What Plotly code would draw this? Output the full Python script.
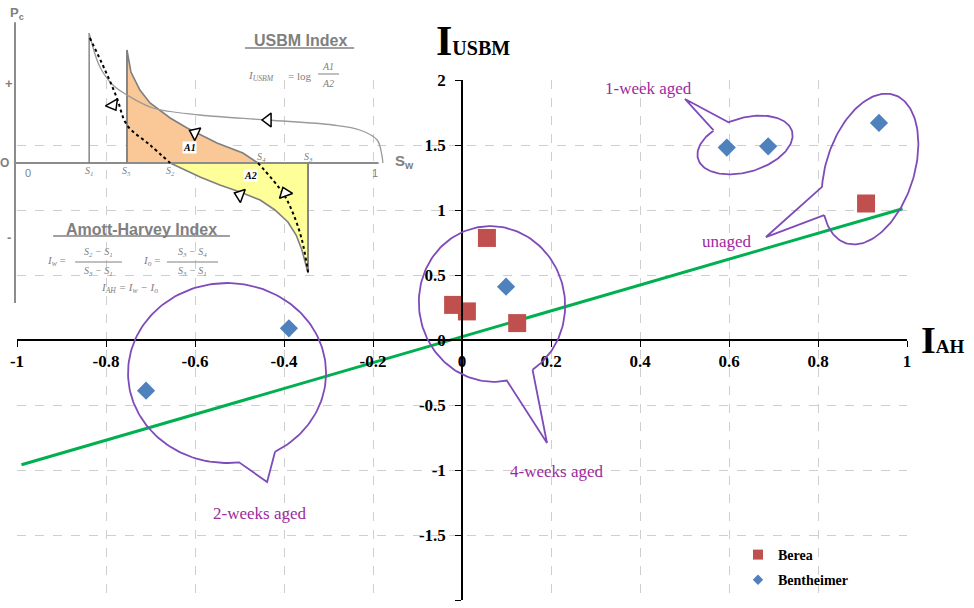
import numpy as np
import plotly.graph_objects as go

# ---------------- wettability indices ----------------
berea_iah = [0.908, -0.02, 0.011, 0.056, 0.124]
berea_iusbm = [1.05, 0.27, 0.22, 0.785, 0.13]

benth_iah = [0.937, 0.595, 0.688, 0.099, -0.71, -0.389]
benth_iusbm = [1.67, 1.48, 1.49, 0.41, -0.39, 0.09]

trend_iah = [-0.99, 0.99]
trend_iusbm = [-0.96, 1.01]

x_ticks = [-1, -0.8, -0.6, -0.4, -0.2, 0, 0.2, 0.4, 0.6, 0.8, 1]
x_tick_labels = ["-1", "-0.8", "-0.6", "-0.4", "-0.2", "0", "0.2", "0.4", "0.6", "0.8", "1"]
y_ticks = [-2, -1.5, -1, -0.5, 0, 0.5, 1, 1.5, 2]
y_tick_labels = ["-2", "-1.5", "-1", "-0.5", "0", "0.5", "1", "1.5", "2"]

group_labels = ["1-week aged", "unaged", "4-weeks aged", "2-weeks aged"]
group_label_x = [0.418, 0.596, 0.213, -0.456]
group_label_y = [1.938, 0.754, -1.015, -1.331]

# ---------------- schematic capillary-pressure curves (Sw, Pc) ----------------
drain_sw = [0.206, 0.236, 0.272, 0.311, 0.383, 0.514, 0.70, 0.883, 0.958, 1.006, 1.019, 1.022]
drain_pc = [1.625, 1.20, 0.975, 0.85, 0.6875, 0.60, 0.5375, 0.475, 0.4125, 0.2875, 0.10, 0.0]

spont_imb_sw = [0.208, 0.25, 0.283, 0.311, 0.375, 0.431]
spont_imb_pc = [1.5625, 1.1625, 0.8125, 0.475, 0.225, 0.0]

forced_imb_sw = [0.431, 0.472, 0.514, 0.569, 0.625, 0.681, 0.722, 0.758, 0.781, 0.797, 0.814]
forced_imb_pc = [0.0, -0.0875, -0.175, -0.275, -0.3625, -0.4625, -0.5875, -0.7375, -0.90, -1.0875, -1.375]

spont_drain_sw = [0.675, 0.744, 0.772, 0.797, 0.814]
spont_drain_pc = [0.0, -0.375, -0.625, -0.9625, -1.3625]

forced_drain_sw = [0.311, 0.322, 0.347, 0.375, 0.431, 0.478, 0.561, 0.633, 0.675]
forced_drain_pc = [1.4125, 1.1375, 0.9125, 0.75, 0.5625, 0.4375, 0.25, 0.125, 0.0]

s_line_sw = [0.206, 0.311, 0.814]
s_line_top = [1.625, 1.4125, -1.375]

s_labels = ["S<sub>1</sub>", "S<sub>5</sub>", "S<sub>2</sub>", "S<sub>4</sub>", "S<sub>3</sub>"]
s_label_sw = [0.206, 0.311, 0.431, 0.686, 0.814]
s_label_pc = [-0.11, -0.11, -0.11, 0.075, 0.075]

arrow_sw = [0.272, 0.703, 0.50, 0.625, 0.75]
arrow_pc = [0.725, 0.5375, 0.375, -0.40, -0.375]
arrow_symbol = ["triangle-left", "triangle-left", "triangle-left", "triangle-left", "triangle-up"]
arrow_angle = [-120, 0, 25, 20, -20]

# ---------------- page geometry ----------------
W, H = 974, 608
PL, PR, PT, PB = 17, 907, 80, 600          # main plotting box in pixels
X_PX = (PR - PL) / 2.0                      # pixels per unit I_AH
Y_PX = (PB - PT) / 4.0                      # pixels per unit I_USBM
X0_PX = (PL + PR) / 2.0                     # pixel column of I_AH = 0
Y0_PX = (PT + PB) / 2.0                     # pixel row of I_USBM = 0

GRAY = "#8C8C8C"
TXT_GRAY = "#808080"
PURPLE_LINE = "#7F4BB8"
PURPLE_TXT = "#9E2A9E"
SERIF = "Liberation Serif"
SANS = "Liberation Sans"


def px_x(p):
    return p / W


def px_y(p):
    return 1 - p / H


def bubble(cx, cy, a, b, rot, gap0, gap1, tip_x, tip_y):
    """Speech-bubble outline: ellipse (a, b in pixels, rotated) with a pointed tail."""
    t = np.radians(np.linspace(gap1, gap0 + 360, 160))
    r = np.radians(rot)
    ex = a * np.cos(t)
    ey = b * np.sin(t)
    X = ex * np.cos(r) - ey * np.sin(r)
    Y = ex * np.sin(r) + ey * np.cos(r)
    xs = list(cx + X / X_PX) + [tip_x, cx + X[0] / X_PX]
    ys = list(cy + Y / Y_PX) + [tip_y, cy + Y[0] / Y_PX]
    return xs, ys


fig = go.Figure()

# ---------------- trend line and data ----------------
fig.add_trace(go.Scatter(x=trend_iah, y=trend_iusbm, mode="lines",
                         line=dict(color="#00B050", width=3), hoverinfo="skip", showlegend=False))
fig.add_trace(go.Scatter(x=berea_iah, y=berea_iusbm, mode="markers", name="Berea",
                         marker=dict(symbol="square", size=18, color="#C0504D"), showlegend=False))
fig.add_trace(go.Scatter(x=benth_iah, y=benth_iusbm, mode="markers", name="Bentheimer",
                         marker=dict(symbol="diamond", size=14, color="#4F81BD"), showlegend=False))
# legend entries
fig.add_trace(go.Scatter(x=[None], y=[None], mode="markers", name="Berea", legendgroup="b",
                         marker=dict(symbol="square", size=10, color="#C0504D")))
fig.add_trace(go.Scatter(x=[None], y=[None], mode="markers", name="Bentheimer", legendgroup="t",
                         marker=dict(symbol="diamond", size=8, color="#4F81BD")))

# ---------------- inset: capillary pressure schematic ----------------
ins = dict(xaxis="x2", yaxis="y2", hoverinfo="skip", showlegend=False)
# filled areas A1 (forced drainage) and A2 (forced imbibition)
fig.add_trace(go.Scatter(x=[forced_drain_sw[0]] + forced_drain_sw + [forced_drain_sw[0]],
                         y=[0] + forced_drain_pc + [0], mode="lines", fill="toself",
                         fillcolor="#FAC896", line=dict(color="#7F7F7F", width=1.6), **ins))
fig.add_trace(go.Scatter(x=forced_imb_sw + [forced_imb_sw[-1], forced_imb_sw[0]],
                         y=forced_imb_pc + [0, 0], mode="lines", fill="toself",
                         fillcolor="#FFFF99", line=dict(color="#7F7F7F", width=1.6), **ins))
# axes of the schematic
fig.add_trace(go.Scatter(x=[0, 0], y=[1.76, -1.75], mode="lines", line=dict(color=GRAY, width=2), **ins))
fig.add_trace(go.Scatter(x=[0, 1.01], y=[0, 0], mode="lines", line=dict(color=GRAY, width=2), **ins))
# saturation end-point verticals
for sw, top in zip(s_line_sw, s_line_top):
    fig.add_trace(go.Scatter(x=[sw, sw], y=[0, top], mode="lines",
                             line=dict(color="#7F7F7F", width=1.4), **ins))
# primary drainage
fig.add_trace(go.Scatter(x=drain_sw, y=drain_pc, mode="lines",
                         line=dict(color="#9A9A9A", width=1.3, shape="spline"), **ins))
# spontaneous imbibition / spontaneous drainage
fig.add_trace(go.Scatter(x=spont_imb_sw, y=spont_imb_pc, mode="lines",
                         line=dict(color="black", width=2, dash="dot", shape="spline"), **ins))
fig.add_trace(go.Scatter(x=spont_drain_sw, y=spont_drain_pc, mode="lines",
                         line=dict(color="black", width=2, dash="dot", shape="spline"), **ins))
# direction arrows
fig.add_trace(go.Scatter(x=arrow_sw, y=arrow_pc, mode="markers",
                         marker=dict(symbol=arrow_symbol, angle=arrow_angle, size=12, color="white",
                                     line=dict(color="black", width=1.5)), **ins))

# ---------------- callout bubbles (on a full-page overlay with the same scale) ----------------
bubbles = [
    bubble(0.636, 1.50, 49, 27, 16.6, 101, 122, 0.501, 1.854),
    bubble(0.917, 1.315, 78, 44, 72, 114, 138, 0.683, 0.792),
    bubble(0.0674, 0.277, 78, 73, 100, 181, 203, 0.191, -0.792),
    bubble(-0.528, -0.254, 99, 90, 0, 277, 299, -0.438, -1.092),
]
for bx, by in bubbles:
    fig.add_trace(go.Scatter(x=bx, y=by, mode="lines", line=dict(color=PURPLE_LINE, width=1.8),
                             xaxis="x3", yaxis="y3", hoverinfo="skip", showlegend=False))

annotations = []


def inset_text(text, sw, pc, size=11, color=TXT_GRAY, family=SERIF, xanchor="center", bg=None):
    d = dict(text=text, x=sw, y=pc, xref="x2", yref="y2", showarrow=False, xanchor=xanchor,
             yanchor="middle", font=dict(family=family, size=size, color=color))
    if bg:
        d["bgcolor"] = bg
        d["borderpad"] = 0
    annotations.append(d)


inset_text("<b>P<sub>c</sub></b>", 0.006, 1.875, size=13, family=SANS)
inset_text("<b>+</b>", -0.017, 0.99, size=13, family=SANS)
inset_text("<b>O</b>", -0.028, 0.0, size=12, family=SANS)
inset_text("<b>-</b>", -0.017, -0.925, size=13, family=SANS)
inset_text("0", 0.036, -0.125, size=11, family=SANS)
inset_text("1", 1.0, -0.125, size=11, family=SANS)
inset_text("<b>S<sub>w</sub></b>", 1.05, 0.025, size=15, family=SANS, xanchor="left")
for lab, sw, pc in zip(s_labels, s_label_sw, s_label_pc):
    inset_text("<i>" + lab + "</i>", sw, pc, size=10)
inset_text("<b><i>A1</i></b>", 0.486, 0.2, size=10, color="black", bg="white")
inset_text("<b><i>A2</i></b>", 0.653, -0.15, size=10, color="black", bg="white")

inset_text("<b>USBM Index</b>", 0.792, 1.5375, size=16, family=SANS)
inset_text("<i>I<sub>USBM</sub></i>", 0.683, 1.0875, size=11)
inset_text("= log", 0.792, 1.0875, size=11)
inset_text("<i>A1</i>", 0.869, 1.2125, size=10)
inset_text("<i>A2</i>", 0.869, 1.0, size=10)

inset_text("<b>Amott-Harvey Index</b>", 0.35, -0.825, size=16, family=SANS)
inset_text("<i>I<sub>w</sub></i> =", 0.114, -1.225, size=11)
inset_text("<i>S<sub>2</sub> − S<sub>1</sub></i>", 0.231, -1.1125, size=10)
inset_text("<i>S<sub>3</sub> − S<sub>1</sub></i>", 0.231, -1.35, size=10)
inset_text("<i>I<sub>o</sub></i> =", 0.378, -1.225, size=11)
inset_text("<i>S<sub>3</sub> − S<sub>4</sub></i>", 0.492, -1.1125, size=10)
inset_text("<i>S<sub>3</sub> − S<sub>1</sub></i>", 0.492, -1.35, size=10)
inset_text("<i>I<sub>AH</sub> = I<sub>w</sub> − I<sub>o</sub></i>", 0.319, -1.5625, size=11)

shapes = [
    dict(type="line", xref="x2", yref="y2", x0=0.639, x1=0.942, y0=1.4375, y1=1.4375,
         line=dict(color=TXT_GRAY, width=1.5)),
    dict(type="line", xref="x2", yref="y2", x0=0.106, x1=0.597, y0=-0.9125, y1=-0.9125,
         line=dict(color=TXT_GRAY, width=1.5)),
    dict(type="line", xref="x2", yref="y2", x0=0.842, x1=0.90, y0=1.1125, y1=1.1125,
         line=dict(color=TXT_GRAY, width=1)),
    dict(type="line", xref="x2", yref="y2", x0=0.167, x1=0.297, y0=-1.2375, y1=-1.2375,
         line=dict(color=TXT_GRAY, width=1)),
    dict(type="line", xref="x2", yref="y2", x0=0.422, x1=0.564, y0=-1.2375, y1=-1.2375,
         line=dict(color=TXT_GRAY, width=1)),
]

# ---------------- group labels ----------------
for lab, gx, gy in zip(group_labels, group_label_x, group_label_y):
    annotations.append(dict(text=lab, x=gx, y=gy, xref="x", yref="y", showarrow=False,
                            font=dict(family=SERIF, size=17, color=PURPLE_TXT)))

# ---------------- axis titles ----------------
annotations += [
    dict(text="<b>I<span style='font-size:20px'>USBM</span></b>", x=px_x(434), y=px_y(41),
         xref="paper", yref="paper", showarrow=False, xanchor="left", yanchor="middle",
         font=dict(family=SERIF, size=42, color="black")),
    dict(text="<b>I<span style='font-size:19px'>AH</span></b>", x=px_x(919), y=px_y(340),
         xref="paper", yref="paper", showarrow=False, xanchor="left", yanchor="middle",
         font=dict(family=SERIF, size=38, color="black")),
]

tickfont = dict(family=SERIF, size=17, color="black", weight="bold")
axis_common = dict(showgrid=True, gridcolor="#CFCFCF", griddash="dash", gridwidth=1,
                   showline=True, linecolor="black", linewidth=1.5, zeroline=False,
                   ticks="outside", ticklen=6, tickcolor="black", tickwidth=1.2,
                   tickfont=tickfont, anchor="free", fixedrange=True, automargin=False)
hidden = dict(visible=False, fixedrange=True, automargin=False, showgrid=False, zeroline=False)

sw_per_px = 1 / 360.0
pc_per_px = 1 / 80.0
fig.update_layout(
    width=W, height=H,
    margin=dict(l=0, r=0, t=0, b=0, autoexpand=False),
    paper_bgcolor="white", plot_bgcolor="rgba(0,0,0,0)",
    xaxis=dict(domain=[px_x(PL), px_x(PR)], range=[-1, 1], tickvals=x_ticks, ticktext=x_tick_labels,
               position=px_y(Y0_PX), **axis_common),
    yaxis=dict(domain=[px_y(PB), px_y(PT)], range=[-2, 2], tickvals=y_ticks, ticktext=y_tick_labels,
               position=px_x(X0_PX), ticklabelstandoff=6, **axis_common),
    xaxis2=dict(domain=[0, 0.5], range=[-15 * sw_per_px, (0.5 * W - 15) * sw_per_px],
                anchor="y2", **hidden),
    yaxis2=dict(domain=[0.45, 1], range=[(163 - 0.55 * H) * pc_per_px, 163 * pc_per_px],
                anchor="x2", **hidden),
    xaxis3=dict(domain=[0, 1], range=[-X0_PX / X_PX, (W - X0_PX) / X_PX], anchor="y3", **hidden),
    yaxis3=dict(domain=[0, 1], range=[(Y0_PX - H) / Y_PX, Y0_PX / Y_PX], anchor="x3", **hidden),
    legend=dict(x=px_x(738), y=px_y(539), xanchor="left", yanchor="top",
                font=dict(family=SERIF, size=14, color="black", weight="bold"),
                bgcolor="rgba(0,0,0,0)", traceorder="grouped", tracegroupgap=4),
    annotations=annotations,
    shapes=shapes,
)

fig.write_html("out.html")
